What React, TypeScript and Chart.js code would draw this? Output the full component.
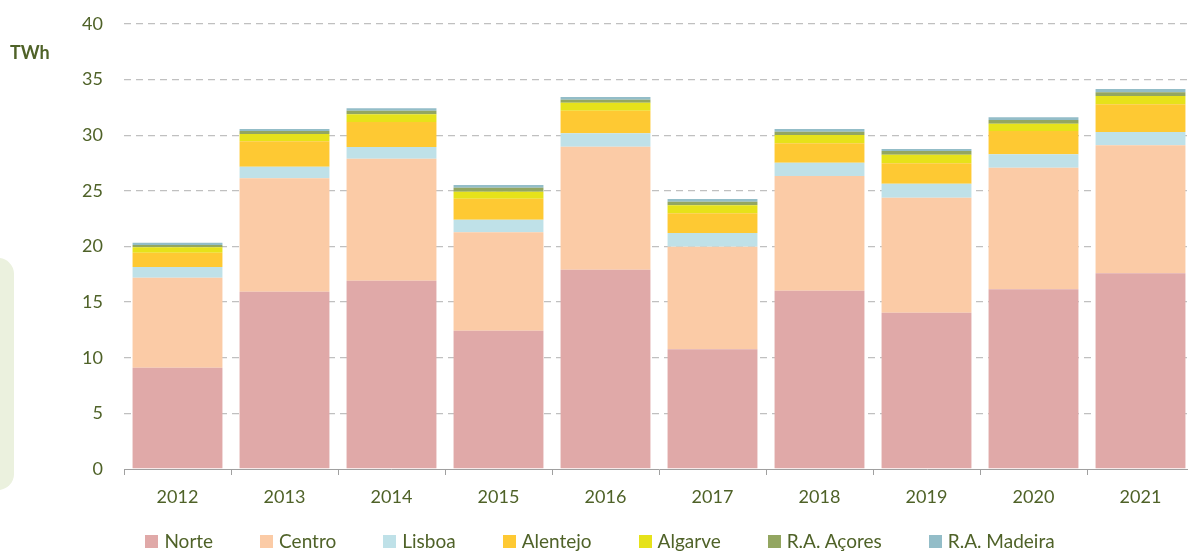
import React, { useEffect, useRef } from 'react';
import { Chart, registerables } from 'chart.js';

Chart.register(...registerables);

const years = ['2012', '2013', '2014', '2015', '2016', '2017', '2018', '2019', '2020', '2021'];
const norte = [9.11, 15.94, 16.93, 12.43, 17.91, 10.76, 16.03, 14.05, 16.15, 17.59];
const centro = [8.09, 10.19, 10.96, 8.85, 11.06, 9.22, 10.31, 10.34, 10.93, 11.51];
const lisboa = [0.96, 1.04, 1.05, 1.13, 1.2, 1.23, 1.19, 1.25, 1.21, 1.19];
const alentejo = [1.28, 2.29, 2.25, 1.89, 2.04, 1.77, 1.75, 1.84, 2.09, 2.49];
const algarve = [0.49, 0.65, 0.69, 0.63, 0.72, 0.72, 0.74, 0.77, 0.66, 0.75];
const acores = [0.2, 0.27, 0.33, 0.36, 0.27, 0.33, 0.3, 0.33, 0.33, 0.33];
const madeira = [0.21, 0.18, 0.21, 0.24, 0.24, 0.24, 0.24, 0.18, 0.24, 0.3];

const seriesNames = ['Norte', 'Centro', 'Lisboa', 'Alentejo', 'Algarve', 'R.A. Açores', 'R.A. Madeira'];
const seriesColors = ['#e0a9a8', '#fbcba6', '#bfe1e8', '#fec933', '#e6e21a', '#93a661', '#93bdc8'];
const seriesValues = [norte, centro, lisboa, alentejo, algarve, acores, madeira];

const yMin = 0;
const yMax = 40;
const yStep = 5;
const unitLabel = 'TWh';

const TEXT = '#4f6228';
const FONT = 'Lato, "Open Sans", sans-serif';

export default function App() {
  const ref = useRef<HTMLCanvasElement | null>(null);

  useEffect(() => {
    if (!ref.current) return;
    const chart = new Chart(ref.current, {
      type: 'bar',
      data: {
        labels: years,
        datasets: seriesNames.map((name, i) => ({
          label: name,
          data: seriesValues[i],
          backgroundColor: seriesColors[i],
          borderWidth: 0,
          categoryPercentage: 1,
          barPercentage: 0.84,
        })),
      },
      options: {
        animation: false,
        responsive: false,
        maintainAspectRatio: false,
        devicePixelRatio: 1,
        layout: { autoPadding: false, padding: { top: 24, right: 6, left: 0, bottom: 0 } },
        plugins: {
          legend: { display: false },
          tooltip: { enabled: false },
        },
        scales: {
          x: {
            stacked: true,
            grid: {
              display: true,
              drawOnChartArea: false,
              drawTicks: true,
              tickLength: 6,
              color: '#a0a0a0',
              offset: true,
            },
            border: { display: true, color: '#a0a0a0', width: 1 },
            ticks: {
              color: TEXT,
              font: { family: FONT, size: 18 },
              padding: 11,
            },
            afterFit: (s: any) => {
              s.height = 84;
            },
          },
          y: {
            stacked: true,
            min: yMin,
            max: yMax,
            z: 1,
            border: { display: false, dash: [7, 5] },
            grid: {
              drawTicks: false,
              lineWidth: 1.3,
              color: (c: any) => (c.tick && c.tick.value === 0 ? 'rgba(0,0,0,0)' : 'rgba(140,140,140,0.55)'),
            },
            ticks: {
              stepSize: yStep,
              color: TEXT,
              font: { family: FONT, size: 18 },
              padding: 21,
            },
            afterFit: (s: any) => {
              s.width = 124;
              s.paddingTop = 0;
              s.paddingBottom = 0;
            },
          },
        },
      },
    } as any);
    return () => chart.destroy();
  }, []);

  return (
    <div
      style={{
        position: 'absolute',
        left: 0,
        top: 0,
        width: 1188,
        height: 553,
        overflow: 'hidden',
        background: '#ffffff',
        fontFamily: FONT,
      }}
    >
      <div
        style={{
          position: 'absolute',
          left: -30,
          top: 258,
          width: 44,
          height: 232,
          borderRadius: 16,
          background: '#ebf1de',
        }}
      />
      <canvas ref={ref} width={1200} height={553} style={{ position: 'absolute', left: 0, top: 0, width: 1200, height: 553 }} />
      <div
        style={{
          position: 'absolute',
          left: 10,
          top: 41,
          fontWeight: 700,
          fontSize: 18,
          lineHeight: '22px',
          color: TEXT,
        }}
      >
        {unitLabel}
      </div>
      <div
        style={{
          position: 'absolute',
          left: 0,
          width: 1200,
          top: 530,
          height: 22,
          display: 'flex',
          justifyContent: 'center',
          alignItems: 'center',
          gap: 47,
        }}
      >
        {seriesNames.map((n, i) => (
          <div key={n} style={{ display: 'flex', alignItems: 'center', gap: 6 }}>
            <span style={{ display: 'inline-block', width: 13, height: 13, background: seriesColors[i] }} />
            <span style={{ fontSize: 19, lineHeight: '22px', color: TEXT }}>{n}</span>
          </div>
        ))}
      </div>
    </div>
  );
}
